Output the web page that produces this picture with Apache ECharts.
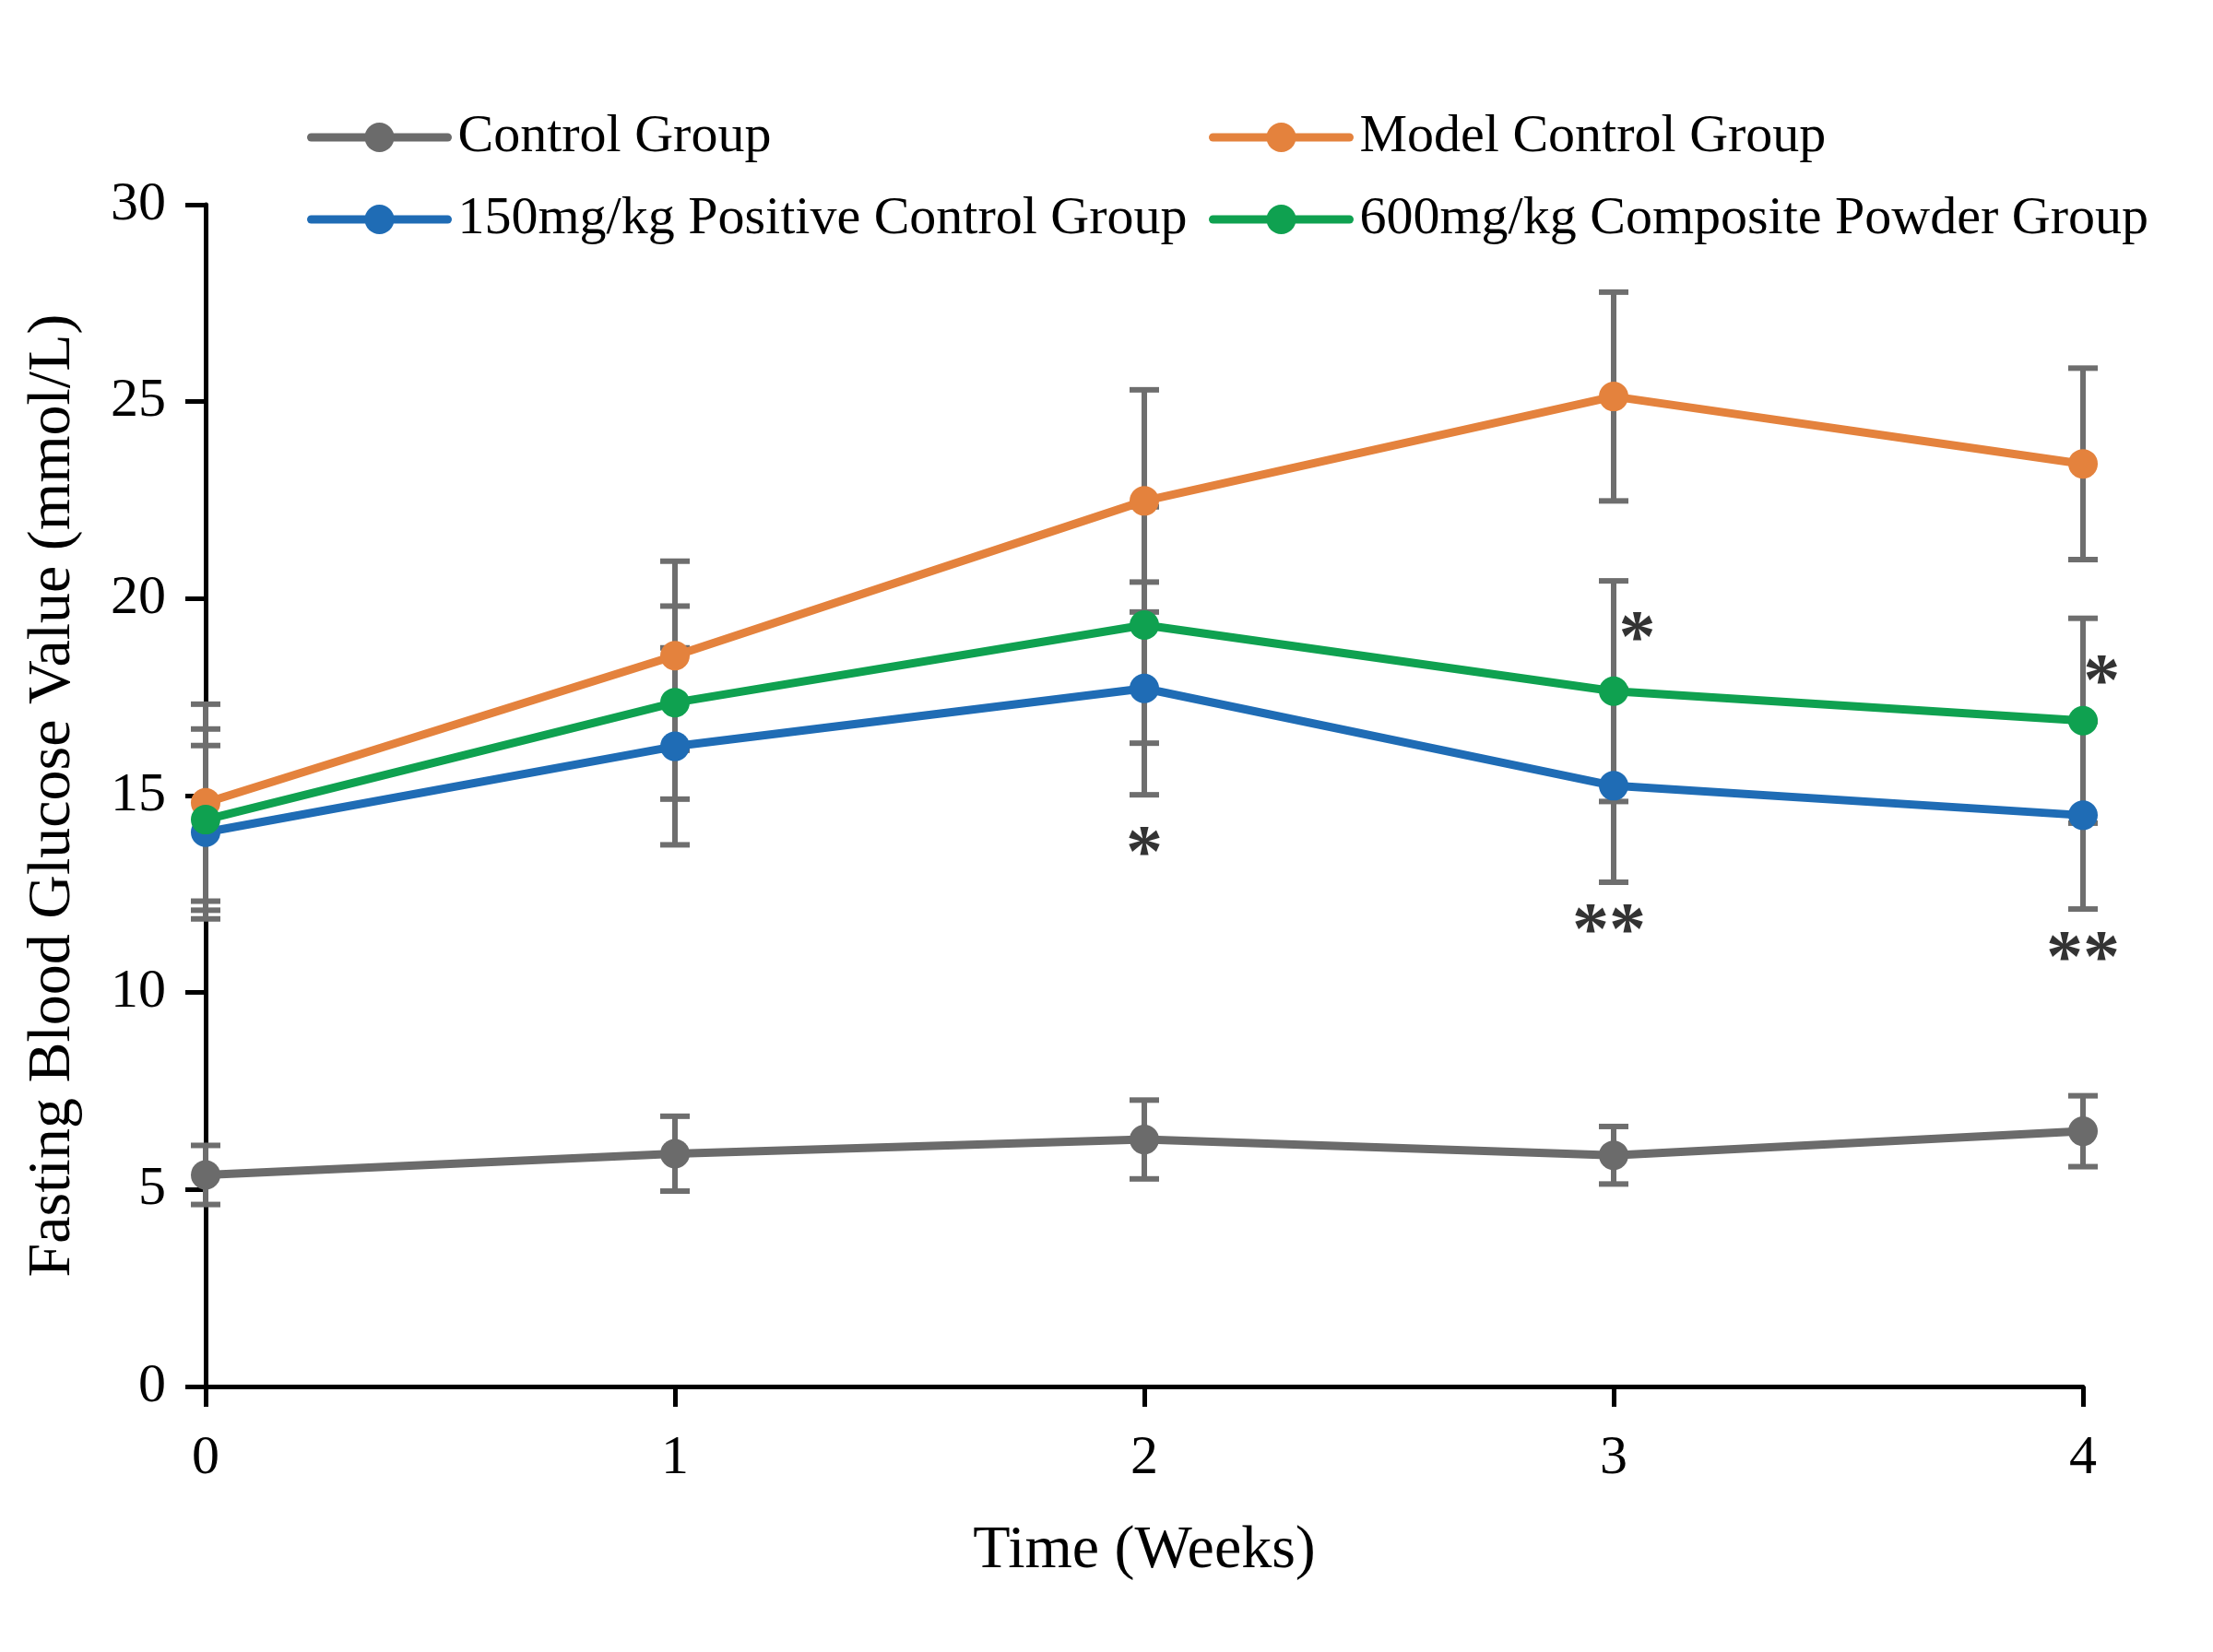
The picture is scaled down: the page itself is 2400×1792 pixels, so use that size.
<!DOCTYPE html>
<html>
<head>
<meta charset="utf-8">
<title>Fasting Blood Glucose</title>
<script src="https://cdn.jsdelivr.net/npm/echarts@6/dist/echarts.min.js"></script>
<style>
	html, body { margin: 0; padding: 0; background: #fff; }
	#chart { width: 2400px; height: 1792px; }
</style>
</head>
<body>
<div id="chart"></div>
<script>
// data
var weeks = [0, 1, 2, 3, 4];
var yTicks = [0, 5, 10, 15, 20, 25, 30];

var control = [5.37, 5.91, 6.27, 5.87, 6.48];
var controlErr = [0.75, 0.95, 1.0, 0.73, 0.9];
var model = [14.82, 18.55, 22.48, 25.13, 23.42];
var modelErr = [2.5, 2.4, 2.82, 2.65, 2.43];
var positive = [14.07, 16.25, 17.72, 15.25, 14.5];
var positiveErr = [2.2, 2.5, 2.7, 2.45, 2.38];
var composite = [14.39, 17.36, 19.33, 17.65, 16.9];
var compositeErr = [2.3, 2.45, 3.0, 2.8, 2.6];

// significance marks: [week, value, text]
var sigMarks = [
	[2, 13.8, '*'],
	[3.05, 19.24, '*'],
	[2.99, 11.84, '**'],
	[4.04, 18.16, '*'],
	[4.0, 11.14, '**']
];

var FONT = 'Liberation Serif';
var ERR_COLOR = '#6e6e6e';

function pairs(vals) {
	var out = [];
	for (var i = 0; i < weeks.length; i++) {
		out.push([weeks[i], vals[i]]);
	}
	return out;
}

function lineSeries(name, vals, color) {
	return {
		name: name,
		type: 'line',
		data: pairs(vals),
		symbol: 'circle',
		symbolSize: 32,
		z: 3,
		itemStyle: { color: color },
		lineStyle: { color: color, width: 9, cap: 'round' },
		emphasis: { disabled: true }
	};
}

function errorSeries(vals, errs) {
	var data = [];
	for (var i = 0; i < weeks.length; i++) {
		data.push([weeks[i], vals[i] - errs[i], vals[i] + errs[i]]);
	}
	return {
		type: 'custom',
		z: 2,
		silent: true,
		data: data,
		renderItem: function(params, api) {
			var lo = api.coord([api.value(0), api.value(1)]);
			var hi = api.coord([api.value(0), api.value(2)]);
			var half = 16;
			var style = { stroke: ERR_COLOR, lineWidth: 6 };
			return {
				type: 'group',
				children: [
					{ type: 'line', shape: { x1: lo[0], y1: lo[1], x2: hi[0], y2: hi[1] }, style: style },
					{ type: 'line', shape: { x1: lo[0] - half, y1: lo[1], x2: lo[0] + half, y2: lo[1] }, style: style },
					{ type: 'line', shape: { x1: hi[0] - half, y1: hi[1], x2: hi[0] + half, y2: hi[1] }, style: style }
				]
			};
		}
	};
}

var legendText = {
	fontFamily: FONT,
	fontSize: 58,
	color: '#000',
	padding: [0, 0, 0, 6]
};

function legendBlock(left, names) {
	return {
		orient: 'vertical',
		left: left,
		top: 115,
		itemWidth: 148,
		itemHeight: 40,
		itemGap: 31,
		data: names,
		textStyle: legendText,
		lineStyle: { width: 9, cap: 'round' },
		selectedMode: false
	};
}

var chart = echarts.init(document.getElementById('chart'), null, { renderer: 'canvas' });
var option = {
	backgroundColor: '#fff',
	animation: false,
	textStyle: { fontFamily: FONT },
	legend: [
		legendBlock(328, ['Control Group', '150mg/kg Positive Control Group']),
		legendBlock(1306, ['Model Control Group', '600mg/kg Composite Powder Group'])
	],
	grid: {
		left: 223,
		right: 141,
		top: 222,
		bottom: 288,
		containLabel: false
	},
	xAxis: {
		type: 'value',
		min: 0,
		max: 4,
		interval: 1,
		name: 'Time (Weeks)',
		nameLocation: 'middle',
		nameGap: 146,
		nameTextStyle: { fontFamily: FONT, fontSize: 66, color: '#000' },
		axisLine: { lineStyle: { color: '#000', width: 5 } },
		axisTick: { length: 22, lineStyle: { color: '#000', width: 5 } },
		axisLabel: { margin: 48, fontFamily: FONT, fontSize: 60, color: '#000' },
		splitLine: { show: false }
	},
	yAxis: {
		type: 'value',
		min: yTicks[0],
		max: yTicks[yTicks.length - 1],
		interval: 5,
		name: 'Fasting Blood Glucose Value (mmol/L)',
		nameLocation: 'middle',
		nameGap: 132,
		nameTextStyle: { fontFamily: FONT, fontSize: 66, color: '#000' },
		axisLine: { show: true, lineStyle: { color: '#000', width: 5 } },
		axisTick: { show: true, length: 22, lineStyle: { color: '#000', width: 5 } },
		axisLabel: { margin: 43, fontFamily: FONT, fontSize: 60, color: '#000' },
		splitLine: { show: false }
	},
	series: [
		errorSeries(control, controlErr),
		errorSeries(model, modelErr),
		errorSeries(positive, positiveErr),
		errorSeries(composite, compositeErr),
		lineSeries('Control Group', control, '#6b6b6b'),
		lineSeries('Model Control Group', model, '#e4823d'),
		lineSeries('150mg/kg Positive Control Group', positive, '#1f6cb5'),
		lineSeries('600mg/kg Composite Powder Group', composite, '#0fa150'),
		{
			type: 'scatter',
			z: 4,
			silent: true,
			clip: false,
			symbolSize: 0,
			data: sigMarks,
			label: {
				show: true,
				position: 'inside',
				offset: [0, 15],
				formatter: function(p) { return p.data[2]; },
				fontFamily: FONT,
				fontSize: 80,
				fontWeight: 'bold',
				color: '#000'
			}
		}
	]
};
chart.setOption(option);
window.onresize = function() {
	chart.resize();
};
</script>
</body>
</html>
